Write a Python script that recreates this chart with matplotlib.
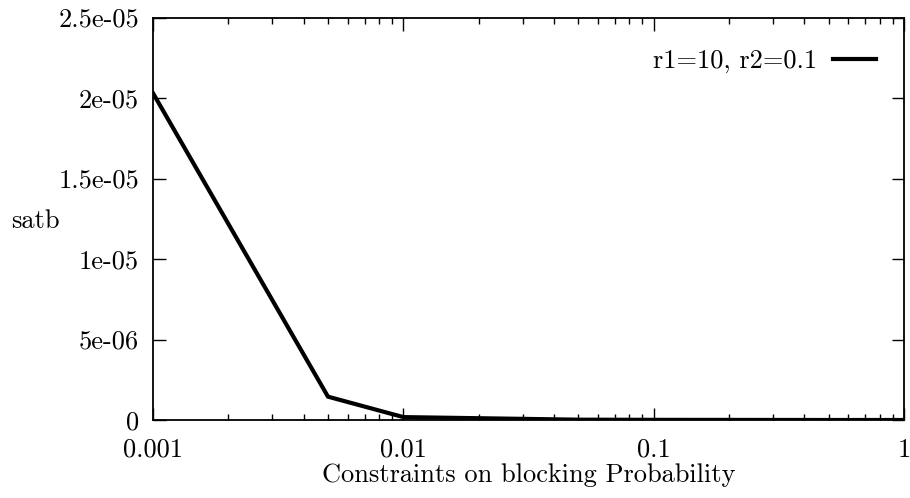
import matplotlib
matplotlib.use("Agg")
import matplotlib.pyplot as plt
from matplotlib.ticker import FixedLocator, FixedFormatter, LogLocator, NullFormatter

plt.rcParams['font.family'] = ['cmr10', 'DejaVu Serif']
plt.rcParams['axes.formatter.use_mathtext'] = True

# data
contrainte = [0.001, 0.005, 0.01, 0.05, 0.1, 0.5, 1.0]
satb = [2.03e-05, 1.45e-06, 1.8e-07, 2e-08, 1e-08, 0.0, 0.0]

yticks = [0, 5e-06, 1e-05, 1.5e-05, 2e-05, 2.5e-05]
ylabels = ['0', '5e-06', '1e-05', '1.5e-05', '2e-05', '2.5e-05']
xticks = [0.001, 0.01, 0.1, 1]
xlabels = ['0.001', '0.01', '0.1', '1']

FS = 19

fig = plt.figure(figsize=(9.1, 4.98), dpi=100)
ax = fig.add_axes([153/910, 1-420/498, 751/910, 402.5/498])

ax.plot(contrainte, satb, color='black', lw=3.0, label='r1=10, r2=0.1',
        solid_joinstyle='miter')
ax.set_xscale('log')
ax.set_xlim(0.001, 1)
ax.set_ylim(0, 2.5e-05)

ax.xaxis.set_major_locator(FixedLocator(xticks))
ax.xaxis.set_major_formatter(FixedFormatter(xlabels))
ax.xaxis.set_minor_locator(LogLocator(base=10, subs=range(2, 10)))
ax.xaxis.set_minor_formatter(NullFormatter())
ax.yaxis.set_major_locator(FixedLocator(yticks))
ax.yaxis.set_major_formatter(FixedFormatter(ylabels))

ax.tick_params(which='both', direction='in', top=True, right=True, width=1.0,
               labelsize=FS)
ax.tick_params(axis='x', which='major', pad=13)
ax.tick_params(axis='y', which='major', pad=10)
ax.tick_params(which='major', length=9)
ax.tick_params(which='minor', length=4.5)
for s in ax.spines.values():
	s.set_linewidth(1.3)

ax.set_xlabel('Constraints on blocking Probability', fontsize=FS, labelpad=1)
ax.set_ylabel('satb', fontsize=FS, rotation=0, va='center')
ax.yaxis.set_label_coords(-0.157, 0.493)

ax.legend(loc='center right', bbox_to_anchor=(0.977, 0.892), frameon=False,
          markerfirst=False, fontsize=FS, handlelength=1.63, handletextpad=0.6,
          borderaxespad=0)

fig.savefig('out.png', dpi=100)
